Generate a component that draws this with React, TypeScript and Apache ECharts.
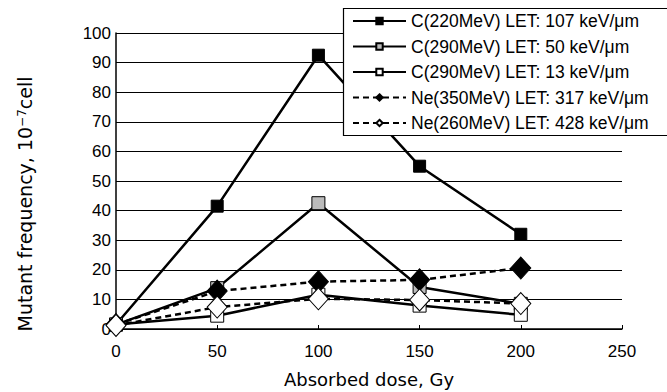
import React, { useEffect, useRef } from "react";
import * as echarts from "echarts";

const doses = [0, 50, 100, 150, 200];
const c220 = [1.5, 41.5, 92.5, 55, 32];
const c290_50 = [1.5, 13.8, 42.5, 14.2, 8.5];
const c290_13 = [1.5, 4.5, 11.6, 7.9, 4.8];
const ne350 = [1.5, 12.8, 16, 16.6, 20.6];
const ne260 = [1.2, 7.4, 10.2, 9.8, 8.6];

const seriesNames = [
  "C(220MeV) LET: 107 keV/μm",
  "C(290MeV) LET: 50 keV/μm",
  "C(290MeV) LET: 13 keV/μm",
  "Ne(350MeV) LET: 317 keV/μm",
  "Ne(260MeV) LET: 428 keV/μm",
];

const FONT = "Liberation Sans, Arial, sans-serif";
const NAME_FONT = "DejaVu Sans, sans-serif";

export default function App() {
  const ref = useRef<HTMLDivElement>(null);
  useEffect(() => {
    if (!ref.current) return;
    const chart = echarts.init(ref.current, null, { renderer: "svg" });
    const pair = (vals: number[]) => doses.map((d, i) => [d, vals[i]]);
    const mk = (
      name: string,
      vals: number[],
      symbol: string,
      size: number | number[],
      fill: string,
      dashed: boolean
    ) => ({
      type: "line",
      name,
      data: pair(vals),
      symbol,
      symbolSize: size,
      showAllSymbol: true,
      lineStyle: { color: "#000", width: 2.5, type: dashed ? [6, 4] : "solid" },
      itemStyle: { color: fill, borderColor: "#000", borderWidth: 1 },
      emphasis: { disabled: true },
    });
    chart.setOption({
      animation: false,
      backgroundColor: "#fff",
      textStyle: { fontFamily: FONT },
      grid: { left: 116, right: 45, top: 33, bottom: 63, outerBoundsMode: "none", containLabel: false },
      legend: {
        orient: "vertical",
        left: 343,
        top: 8,
        align: "left",
        padding: [4, 20, 4, 9],
        itemGap: 7.5,
        itemWidth: 53,
        itemHeight: 8,
        z: 10,
        textStyle: { fontSize: 17.5, lineHeight: 18, color: "#000", fontFamily: FONT },
        data: seriesNames,
      },
      xAxis: {
        type: "value",
        min: 0,
        max: 250,
        interval: 50,
        name: "Absorbed dose, Gy",
        nameLocation: "middle",
        nameGap: 41,
        nameTextStyle: { fontSize: 18, color: "#000", fontFamily: NAME_FONT },
        axisLine: { lineStyle: { color: "#000", width: 1.5 } },
        axisTick: { inside: true, length: 4, lineStyle: { color: "#000" } },
        axisLabel: { fontSize: 17, color: "#000", margin: 14 },
        splitLine: { show: false },
      },
      yAxis: {
        type: "value",
        min: 0,
        max: 100,
        interval: 10,
        axisLine: { show: true, lineStyle: { color: "#000", width: 1.5 } },
        axisTick: { show: true, inside: true, length: 4, lineStyle: { color: "#000" } },
        axisLabel: { fontSize: 17, color: "#000", margin: 5 },
        splitLine: { show: true, lineStyle: { color: "#000", width: 1.2 } },
      },
      graphic: [
        {
          type: "rect",
          z: 8,
          shape: { x: 343.5, y: 8.5, width: 400, height: 127 },
          style: { fill: "#fff", stroke: "#000", lineWidth: 1.2 },
        },
        {
          type: "text",
          x: 25,
          y: 204,
          rotation: Math.PI / 2,
          style: {
            text: "Mutant frequency, 10{sup|−7}cell",
            fontSize: 19,
            fontFamily: NAME_FONT,
            fill: "#000",
            align: "center",
            verticalAlign: "middle",
            rich: {
              sup: { fontSize: 12, fontFamily: NAME_FONT, fill: "#000", verticalAlign: "top", padding: [0, 0, 7, 0] },
            },
          },
        },
      ],
      series: [
        mk(seriesNames[0], c220, "rect", 12, "#000", false),
        mk(seriesNames[1], c290_50, "rect", 13, "#bbb", false),
        mk(seriesNames[2], c290_13, "rect", 13, "#fff", false),
        mk(seriesNames[3], ne350, "diamond", [20, 22], "#000", true),
        mk(seriesNames[4], ne260, "diamond", [20, 22], "#fff", true),
      ],
    });
    return () => chart.dispose();
  }, []);
  return <div ref={ref} style={{ width: 667, height: 392, position: "absolute", left: 0, top: 0 }} />;
}
